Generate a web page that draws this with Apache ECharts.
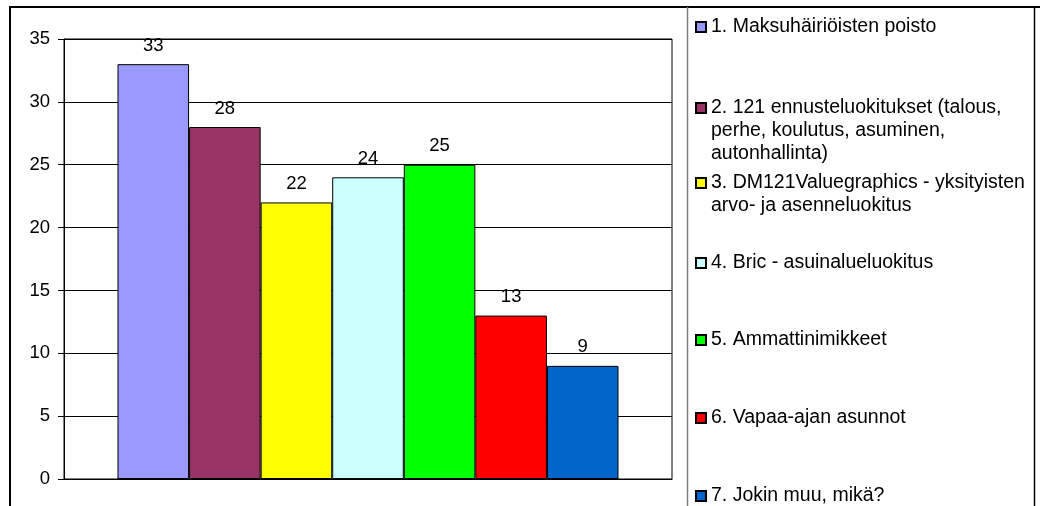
<!DOCTYPE html>
<html>
<head>
<meta charset="utf-8">
<script src="https://cdn.jsdelivr.net/npm/echarts@6/dist/echarts.min.js"></script>
<style>
  html, body { margin: 0; padding: 0; background: #fff; }
  #chart { width: 1040px; height: 506px; }
</style>
</head>
<body>
<div id="chart"></div>
<script>
// Survey answers: one bar per option
const categories = [''];
const seriesNames = [
  '1. Maksuhäiriöisten poisto',
  '2. 121 ennusteluokitukset (talous,\nperhe, koulutus, asuminen,\nautonhallinta)',
  '3. DM121Valuegraphics - yksityisten\narvo- ja asenneluokitus',
  '4. Bric - asuinalueluokitus',
  '5. Ammattinimikkeet',
  '6. Vapaa-ajan asunnot',
  '7. Jokin muu, mikä?'
];
const values = [33, 28, 22, 24, 25, 13, 9];
const colors = ['#9999FF', '#993366', '#FFFF00', '#CCFFFF', '#00FF00', '#FF0000', '#0066CC'];
const yTicks = { min: 0, max: 35, interval: 5 };

// vertical centre of the first text line of each legend entry
const legendRowY = [27, 108, 183, 263, 340, 418, 496];

const FONT = "'Liberation Sans', Arial, sans-serif";
const LINE_H = 23;

const chart = echarts.init(document.getElementById('chart'), null, { renderer: 'canvas' });

const series = seriesNames.map((name, i) => ({
  name: name,
  type: 'bar',
  data: [values[i]],
  barGap: '0%',
  barCategoryGap: '17.6%',
  itemStyle: { color: colors[i], borderColor: '#000', borderWidth: 1 },
  label: {
    show: true,
    position: 'top',
    distance: 9,
    color: '#000',
    fontFamily: FONT,
    fontSize: 18.5
  },
  emphasis: { disabled: true }
}));

// One legend block per entry so each row sits at its own height.
// Wrapped names get blank lines in front, which keeps the symbol
// level with the first line of text.
const legends = seriesNames.map((name, i) => {
  const n = name.split('\n').length;
  return {
    data: [name],
    orient: 'vertical',
    left: 695,
    top: legendRowY[i] - (2 * n - 1) * LINE_H / 2,
    padding: 0,
    icon: 'rect',
    itemWidth: 10,
    itemHeight: 10,
    selectedMode: false,
    formatter: (label) => '\n'.repeat(n - 1) + label,
    textStyle: {
      color: '#000',
      fontFamily: FONT,
      fontSize: 19.5,
      lineHeight: LINE_H
    }
  };
});

chart.setOption({
  animation: false,
  backgroundColor: '#fff',
  textStyle: { fontFamily: FONT },
  grid: {
    left: 64, right: 368, top: 39, bottom: 27,
    show: true, borderColor: '#000', borderWidth: 1, backgroundColor: 'transparent'
  },
  legend: legends,
  xAxis: {
    type: 'category',
    data: categories,
    axisLine: { show: true, lineStyle: { color: '#000', width: 1 } },
    axisTick: { show: false },
    axisLabel: { show: false },
    splitLine: { show: false }
  },
  yAxis: {
    type: 'value',
    min: yTicks.min,
    max: yTicks.max,
    interval: yTicks.interval,
    axisLine: { show: true, lineStyle: { color: '#000', width: 1 } },
    axisTick: { show: true, length: 6, lineStyle: { color: '#000' } },
    axisLabel: { color: '#000', fontFamily: FONT, fontSize: 18.5, margin: 14 },
    splitLine: { show: true, lineStyle: { color: '#000', width: 1 } }
  },
  graphic: [
    // chart area frame
    {
      type: 'rect', silent: true, z: 100,
      shape: { x: 10, y: 7, width: 1050, height: 520 },
      style: { fill: 'none', stroke: '#000', lineWidth: 2 }
    },
    // legend box sides
    {
      type: 'line', silent: true, z: 100,
      shape: { x1: 687.5, y1: 7, x2: 687.5, y2: 506 },
      style: { stroke: '#808080', lineWidth: 1.5 }
    },
    {
      type: 'line', silent: true, z: 100,
      shape: { x1: 1034.5, y1: 7, x2: 1034.5, y2: 506 },
      style: { stroke: '#000', lineWidth: 1.5 }
    }
  ],
  series: series
});
</script>
</body>
</html>
